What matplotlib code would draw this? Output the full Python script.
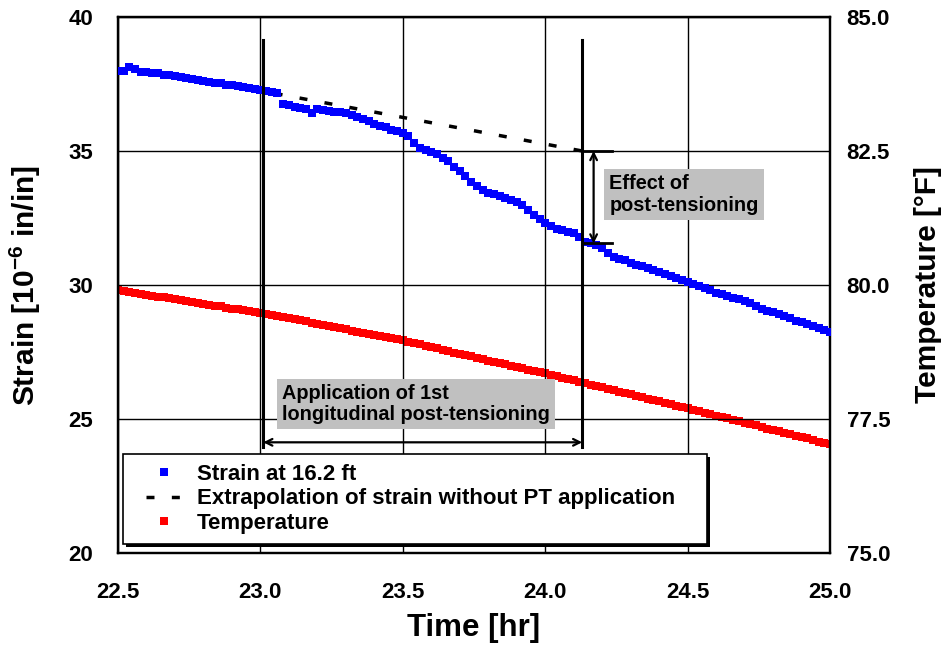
import matplotlib
matplotlib.use("Agg")
import matplotlib.pyplot as plt
from matplotlib.ticker import FixedLocator, FormatStrFormatter
from matplotlib.patches import Rectangle

plt.rcParams['font.family'] = ['Liberation Sans', 'DejaVu Sans']
plt.rcParams['font.weight'] = 'bold'
plt.rcParams['mathtext.fontset'] = 'custom'
plt.rcParams['mathtext.rm'] = 'Liberation Sans:bold'
plt.rcParams['mathtext.bf'] = 'Liberation Sans:bold'
plt.rcParams['mathtext.it'] = 'Liberation Sans:bold'
plt.rcParams['mathtext.default'] = 'bf'

# ---------------- data ----------------
time_hr = [22.50, 22.52, 22.54, 22.56, 22.58, 22.60, 22.62, 22.64, 22.66, 22.68,
           22.70, 22.72, 22.74, 22.76, 22.78, 22.80, 22.82, 22.84, 22.86, 22.88,
           22.90, 22.92, 22.94, 22.96, 22.98, 23.00, 23.02, 23.04, 23.06, 23.08,
           23.10, 23.12, 23.14, 23.16, 23.18, 23.20, 23.22, 23.24, 23.26, 23.28,
           23.30, 23.32, 23.34, 23.36, 23.38, 23.40, 23.42, 23.44, 23.46, 23.48,
           23.50, 23.52, 23.54, 23.56, 23.58, 23.60, 23.62, 23.64, 23.66, 23.68,
           23.70, 23.72, 23.74, 23.76, 23.78, 23.80, 23.82, 23.84, 23.86, 23.88,
           23.90, 23.92, 23.94, 23.96, 23.98, 24.00, 24.02, 24.04, 24.06, 24.08,
           24.10, 24.12, 24.14, 24.16, 24.18, 24.20, 24.22, 24.24, 24.26, 24.28,
           24.30, 24.32, 24.34, 24.36, 24.38, 24.40, 24.42, 24.44, 24.46, 24.48,
           24.50, 24.52, 24.54, 24.56, 24.58, 24.60, 24.62, 24.64, 24.66, 24.68,
           24.70, 24.72, 24.74, 24.76, 24.78, 24.80, 24.82, 24.84, 24.86, 24.88,
           24.90, 24.92, 24.94, 24.96, 24.98, 25.00]

strain = [38.00, 38.00, 38.12, 38.05, 37.95, 37.95, 37.92, 37.90, 37.85, 37.82,
          37.78, 37.75, 37.72, 37.70, 37.66, 37.62, 37.58, 37.55, 37.52, 37.48,
          37.45, 37.42, 37.38, 37.34, 37.30, 37.27, 37.24, 37.20, 37.18, 36.75,
          36.70, 36.65, 36.60, 36.55, 36.42, 36.55, 36.52, 36.50, 36.47, 36.44,
          36.40, 36.34, 36.26, 36.20, 36.12, 36.02, 35.94, 35.88, 35.80, 35.73,
          35.68, 35.55, 35.30, 35.10, 35.02, 34.97, 34.90, 34.75, 34.62, 34.42,
          34.25, 34.05, 33.85, 33.68, 33.55, 33.45, 33.40, 33.32, 33.25, 33.16,
          33.10, 32.98, 32.80, 32.60, 32.45, 32.32, 32.22, 32.10, 32.04, 31.98,
          31.94, 31.80, 31.62, 31.58, 31.50, 31.38, 31.20, 31.04, 30.98, 30.92,
          30.82, 30.76, 30.70, 30.62, 30.55, 30.47, 30.40, 30.32, 30.26, 30.18,
          30.10, 30.03, 29.95, 29.88, 29.80, 29.72, 29.65, 29.60, 29.53, 29.48,
          29.40, 29.32, 29.22, 29.12, 29.04, 29.00, 28.92, 28.85, 28.76, 28.66,
          28.62, 28.55, 28.46, 28.40, 28.33, 28.25]

temperature_F = [79.90, 79.88, 79.87, 79.85, 79.83, 79.82, 79.80, 79.78, 79.77, 79.75,
                 79.73, 79.72, 79.70, 79.68, 79.66, 79.65, 79.63, 79.61, 79.60, 79.58,
                 79.56, 79.55, 79.53, 79.51, 79.50, 79.48, 79.46, 79.44, 79.42, 79.40,
                 79.38, 79.36, 79.34, 79.32, 79.30, 79.28, 79.25, 79.23, 79.21, 79.19,
                 79.17, 79.15, 79.13, 79.11, 79.09, 79.07, 79.05, 79.03, 79.01, 78.99,
                 78.97, 78.94, 78.92, 78.89, 78.87, 78.84, 78.82, 78.79, 78.77, 78.74,
                 78.72, 78.69, 78.67, 78.64, 78.62, 78.59, 78.57, 78.54, 78.52, 78.49,
                 78.47, 78.45, 78.42, 78.40, 78.37, 78.35, 78.32, 78.30, 78.27, 78.24,
                 78.22, 78.19, 78.17, 78.14, 78.11, 78.09, 78.06, 78.04, 78.01, 77.98,
                 77.96, 77.93, 77.91, 77.88, 77.85, 77.83, 77.80, 77.78, 77.75, 77.72,
                 77.70, 77.67, 77.65, 77.62, 77.59, 77.56, 77.54, 77.51, 77.48, 77.46,
                 77.43, 77.40, 77.38, 77.35, 77.32, 77.30, 77.27, 77.24, 77.22, 77.19,
                 77.16, 77.14, 77.11, 77.08, 77.06, 77.03]

extrap_time = [23.05, 24.13]
extrap_strain = [37.15, 35.00]

pt_start, pt_end = 23.01, 24.13
effect_top, effect_bottom = 35.00, 31.55

x_ticks = [22.5, 23.0, 23.5, 24.0, 24.5, 25.0]
y_ticks = [20, 25, 30, 35, 40]
y2_ticks = [75.0, 77.5, 80.0, 82.5, 85.0]

legend_labels = ['Strain at 16.2 ft',
                 'Extrapolation of strain without PT application',
                 'Temperature']

# ---------------- figure ----------------
W, H = 948, 647
fig = plt.figure(figsize=(W/100, H/100), dpi=100)
ax = fig.add_axes([118/W, 1-553/H, 712/W, 536/H])
ax2 = ax.twinx()
ax.set_zorder(ax2.get_zorder() + 1)
ax.patch.set_visible(False)

ax.set_xlim(22.5, 25.0)
ax.set_ylim(20, 40)
ax2.set_ylim(75, 85)

ax.xaxis.set_major_locator(FixedLocator(x_ticks))
ax.yaxis.set_major_locator(FixedLocator(y_ticks))
ax2.yaxis.set_major_locator(FixedLocator(y2_ticks))
ax.xaxis.set_major_formatter(FormatStrFormatter('%.1f'))
ax.yaxis.set_major_formatter(FormatStrFormatter('%d'))
ax2.yaxis.set_major_formatter(FormatStrFormatter('%.1f'))

ax.grid(True, color='black', linewidth=1.0)
ax.set_axisbelow(True)

ax.tick_params(axis='x', length=0, pad=21, labelsize=16)
ax.tick_params(axis='y', length=0, pad=18, labelsize=16)
ax2.tick_params(axis='y', length=0, pad=12, labelsize=16)
for a in (ax, ax2):
    for s in a.spines.values():
        s.set_linewidth(1.6)
        s.set_color('black')

# series
l_temp, = ax2.plot(time_hr, temperature_F, linestyle='none', marker='s',
                   markersize=6, color='#FF0000', markeredgewidth=0)
l_strain, = ax.plot(time_hr, strain, linestyle='none', marker='s',
                    markersize=6, color='#0000FF', markeredgewidth=0, zorder=3)
l_ext, = ax.plot(extrap_time, extrap_strain, color='black', linewidth=2.5,
                 dashes=(2.3, 5), zorder=2)

# annotation lines
ax.plot([pt_start, pt_start], [39.14, 23.96], color='black', linewidth=2.2, zorder=4)
ax.plot([pt_end, pt_end], [39.14, 23.96], color='black', linewidth=2.2, zorder=4)
ax.annotate('', xy=(pt_start, 24.13), xytext=(pt_end, 24.13),
            arrowprops=dict(arrowstyle='<->', color='black', lw=1.6,
                            shrinkA=0, shrinkB=0, mutation_scale=12), zorder=4)
ax.annotate('', xy=(24.17, effect_top), xytext=(24.17, effect_bottom),
            arrowprops=dict(arrowstyle='<->', color='black', lw=1.6,
                            shrinkA=0, shrinkB=0, mutation_scale=12), zorder=4)
ax.plot([pt_end, 24.235], [effect_top, effect_top], color='black', linewidth=2.0, zorder=4)
ax.plot([pt_end, 24.235], [effect_bottom, effect_bottom], color='black', linewidth=2.0, zorder=4)

ax.text(23.077, 25.56, 'Application of 1st\nlongitudinal post-tensioning',
        fontsize=14.3, fontweight='bold', ha='left', va='center', zorder=5,
        linespacing=1.15,
        bbox=dict(boxstyle='square,pad=0.25', facecolor='#C0C0C0', edgecolor='none'))
ax.text(24.225, 33.38, 'Effect of\npost-tensioning',
        fontsize=14.3, fontweight='bold', ha='left', va='center', zorder=5,
        linespacing=1.15,
        bbox=dict(boxstyle='square,pad=0.25', facecolor='#C0C0C0', edgecolor='none'))

# axis labels
fig.text(25/W, 1-285/H, 'Strain [10$^{-6}$ in/in]', rotation=90,
         ha='center', va='center', fontsize=21.5, fontweight='bold')
fig.text(928/W, 1-285/H, 'Temperature [°F]', rotation=90,
         ha='center', va='center', fontsize=21.5, fontweight='bold')
fig.text(474/W, 1-628/H, 'Time [hr]', ha='center', va='center',
         fontsize=22.5, fontweight='bold')

# legend box with shadow (drawn separately), then frameless legend content
bx0, by0, bx1, by1 = 123, 454, 707, 544
shadow = Rectangle(((bx0+3)/W, 1-(by1+3)/H), (bx1-bx0)/W, (by1-by0)/H,
                   transform=fig.transFigure, facecolor='black', edgecolor='none',
                   zorder=8, clip_on=False)
box = Rectangle((bx0/W, 1-by1/H), (bx1-bx0)/W, (by1-by0)/H,
                transform=fig.transFigure, facecolor='white', edgecolor='black',
                linewidth=1.2, zorder=9, clip_on=False)
ax.add_artist(shadow)
ax.add_artist(box)

leg = ax.legend([l_strain, l_ext, l_temp], legend_labels,
                loc='center left', bbox_to_anchor=(146/W, 1-499/H),
                bbox_transform=fig.transFigure, borderaxespad=0, borderpad=0,
                frameon=False, handlelength=1.6, handletextpad=0.7,
                labelspacing=0.17, prop={'weight': 'bold', 'size': 16})
leg.set_zorder(10)

fig.savefig('out.png', dpi=100)
